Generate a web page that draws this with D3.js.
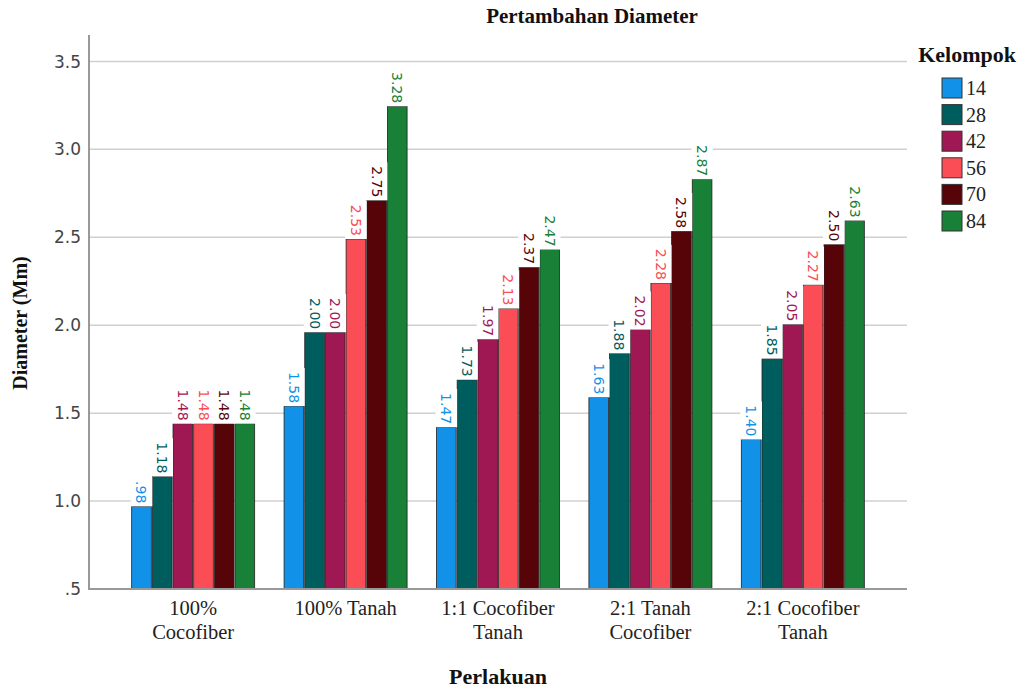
<!DOCTYPE html>
<html>
<head>
<meta charset="utf-8">
<script src="https://cdn.jsdelivr.net/npm/d3@7"></script>
<style>
  body { margin: 0; background: #fff; }
  svg { display: block; }
</style>
</head>
<body>
<div id="chart"></div>
<script>
// data
const categories = [["100%", "Cocofiber"], ["100% Tanah"], ["1:1 Cocofiber", "Tanah"], ["2:1 Tanah", "Cocofiber"], ["2:1 Cocofiber", "Tanah"]];
const groups = ["14", "28", "42", "56", "70", "84"];
const colors = ["#1192e8", "#005d5d", "#9f1853", "#fa4d56", "#570408", "#198038"];

// printed value labels
const labelValues = [
  [0.98, 1.18, 1.48, 1.48, 1.48, 1.48],
  [1.58, 2.00, 2.00, 2.53, 2.75, 3.28],
  [1.47, 1.73, 1.97, 2.13, 2.37, 2.47],
  [1.63, 1.88, 2.02, 2.28, 2.58, 2.87],
  [1.40, 1.85, 2.05, 2.27, 2.50, 2.63]
];
// bar heights as drawn (slightly under the printed labels)
const barValues = [
  [0.97, 1.14, 1.44, 1.44, 1.44, 1.44],
  [1.54, 1.96, 1.96, 2.49, 2.71, 3.245],
  [1.42, 1.69, 1.92, 2.095, 2.33, 2.43],
  [1.59, 1.84, 1.975, 2.24, 2.535, 2.83],
  [1.35, 1.81, 2.005, 2.23, 2.46, 2.595]
];
const yTicks = [0.5, 1.0, 1.5, 2.0, 2.5, 3.0, 3.5];
const yTickLabels = [".5", "1.0", "1.5", "2.0", "2.5", "3.0", "3.5"];

const width = 1018, height = 688;
const plot = { left: 89, right: 907, top: 35, bottom: 589 };
const serif = "'Liberation Serif', 'Times New Roman', serif";
const sans = "'DejaVu Sans', sans-serif";

const svg = d3.select("#chart")
  .append("svg")
  .attr("width", width)
  .attr("height", height);

const x0 = d3.scaleBand()
  .domain(d3.range(categories.length))
  .range([plot.left, plot.right])
  .paddingInner(0.193)
  .paddingOuter(0.28);

const x1 = d3.scaleBand()
  .domain(groups)
  .range([0, x0.bandwidth()])
  .paddingInner(0.05);

const y = d3.scaleLinear()
  .domain([0.5, 3.65])
  .range([plot.bottom, plot.top]);

// grid lines
svg.append("g")
  .selectAll("line")
  .data(yTicks.slice(1))
  .enter()
  .append("line")
  .attr("x1", plot.left)
  .attr("x2", plot.right)
  .attr("y1", d => y(d))
  .attr("y2", d => y(d))
  .attr("stroke", "#d0d0d0")
  .attr("stroke-width", 1.5);

// y tick labels
svg.append("g")
  .selectAll("text")
  .data(yTicks)
  .enter()
  .append("text")
  .attr("x", plot.left - 8)
  .attr("y", d => y(d))
  .attr("dy", "0.36em")
  .attr("text-anchor", "end")
  .style("font-family", sans)
  .style("font-size", "17px")
  .style("fill", "#444")
  .text((d, i) => yTickLabels[i]);

// bars
const groupG = svg.append("g")
  .selectAll("g")
  .data(barValues)
  .enter()
  .append("g")
  .attr("transform", (d, i) => `translate(${x0(i)},0)`);

groupG.selectAll("rect")
  .data(d => d)
  .enter()
  .append("rect")
  .attr("x", (d, i) => x1(groups[i]))
  .attr("width", x1.bandwidth())
  .attr("y", d => y(d))
  .attr("height", d => y(0.5) - y(d))
  .attr("fill", (d, i) => colors[i])
  .attr("stroke", "#222")
  .attr("stroke-width", 0.8);

// value labels (white box, rotated text)
const labelG = svg.append("g");
barValues.forEach((row, gi) => {
  row.forEach((v, si) => {
    const cx = x0(gi) + x1(groups[si]) + x1.bandwidth() / 2;
    const top = y(v);
    const lab = labelValues[gi][si];
    const txt = lab < 1 ? d3.format(".2f")(lab).replace(/^0/, "") : d3.format(".2f")(lab);
    const box = labelG.append("rect").attr("fill", "#fff");
    const t = labelG.append("text")
      .attr("transform", `translate(${cx},${top - 3}) rotate(90)`)
      .attr("text-anchor", "end")
      .attr("dominant-baseline", "central")
      .style("font-family", sans)
      .style("font-size", "14px")
      .style("fill", colors[si])
      .text(txt);
    const len = t.node().getComputedTextLength();
    box.attr("x", cx - x1.bandwidth() / 2 - 1)
      .attr("width", x1.bandwidth() + 2)
      .attr("y", top - len - 7)
      .attr("height", len + 7);
  });
});

// axes lines
svg.append("line")
  .attr("x1", plot.left).attr("x2", plot.left)
  .attr("y1", plot.top).attr("y2", plot.bottom + 1)
  .attr("stroke", "#999").attr("stroke-width", 2);
svg.append("line")
  .attr("x1", plot.left).attr("x2", plot.right)
  .attr("y1", plot.bottom).attr("y2", plot.bottom)
  .attr("stroke", "#999").attr("stroke-width", 2);

// x tick labels
const xt = svg.append("g")
  .selectAll("text")
  .data(categories)
  .enter()
  .append("text")
  .attr("x", (d, i) => x0(i) + x0.bandwidth() / 2)
  .attr("y", 615)
  .attr("text-anchor", "middle")
  .style("font-family", serif)
  .style("font-size", "20.5px")
  .style("fill", "#222");
xt.selectAll("tspan")
  .data(d => d)
  .enter()
  .append("tspan")
  .attr("x", function () { return this.parentNode.getAttribute("x"); })
  .attr("dy", (d, i) => i === 0 ? 0 : 24)
  .text(d => d);

// title and axis titles
svg.append("text")
  .attr("x", 592).attr("y", 23)
  .attr("text-anchor", "middle")
  .style("font-family", serif).style("font-weight", "bold")
  .style("font-size", "21px").style("fill", "#111")
  .text("Pertambahan Diameter");

svg.append("text")
  .attr("x", 498).attr("y", 684)
  .attr("text-anchor", "middle")
  .style("font-family", serif).style("font-weight", "bold")
  .style("font-size", "22px").style("fill", "#111")
  .text("Perlakuan");

svg.append("text")
  .attr("transform", "translate(27, 323) rotate(-90)")
  .attr("text-anchor", "middle")
  .style("font-family", serif).style("font-weight", "bold")
  .style("font-size", "20px").style("fill", "#111")
  .text("Diameter (Mm)");

// legend
const legend = svg.append("g")
  .attr("transform", "translate(942, 78)");

legend.append("text")
  .attr("x", 74).attr("y", -16)
  .attr("text-anchor", "end")
  .style("font-family", serif).style("font-weight", "bold")
  .style("font-size", "22px").style("fill", "#111")
  .text("Kelompok");

const legendItem = legend.selectAll(".legend-item")
  .data(groups)
  .enter()
  .append("g")
  .attr("class", "legend-item")
  .attr("transform", (d, i) => `translate(0, ${i * 26.6})`);

legendItem.append("rect")
  .attr("width", 20)
  .attr("height", 20)
  .attr("fill", (d, i) => colors[i])
  .attr("stroke", "#333")
  .attr("stroke-width", 1);

legendItem.append("text")
  .attr("x", 24)
  .attr("y", 17)
  .style("font-family", serif)
  .style("font-size", "20px")
  .style("fill", "#222")
  .text(d => d);
</script>
</body>
</html>
